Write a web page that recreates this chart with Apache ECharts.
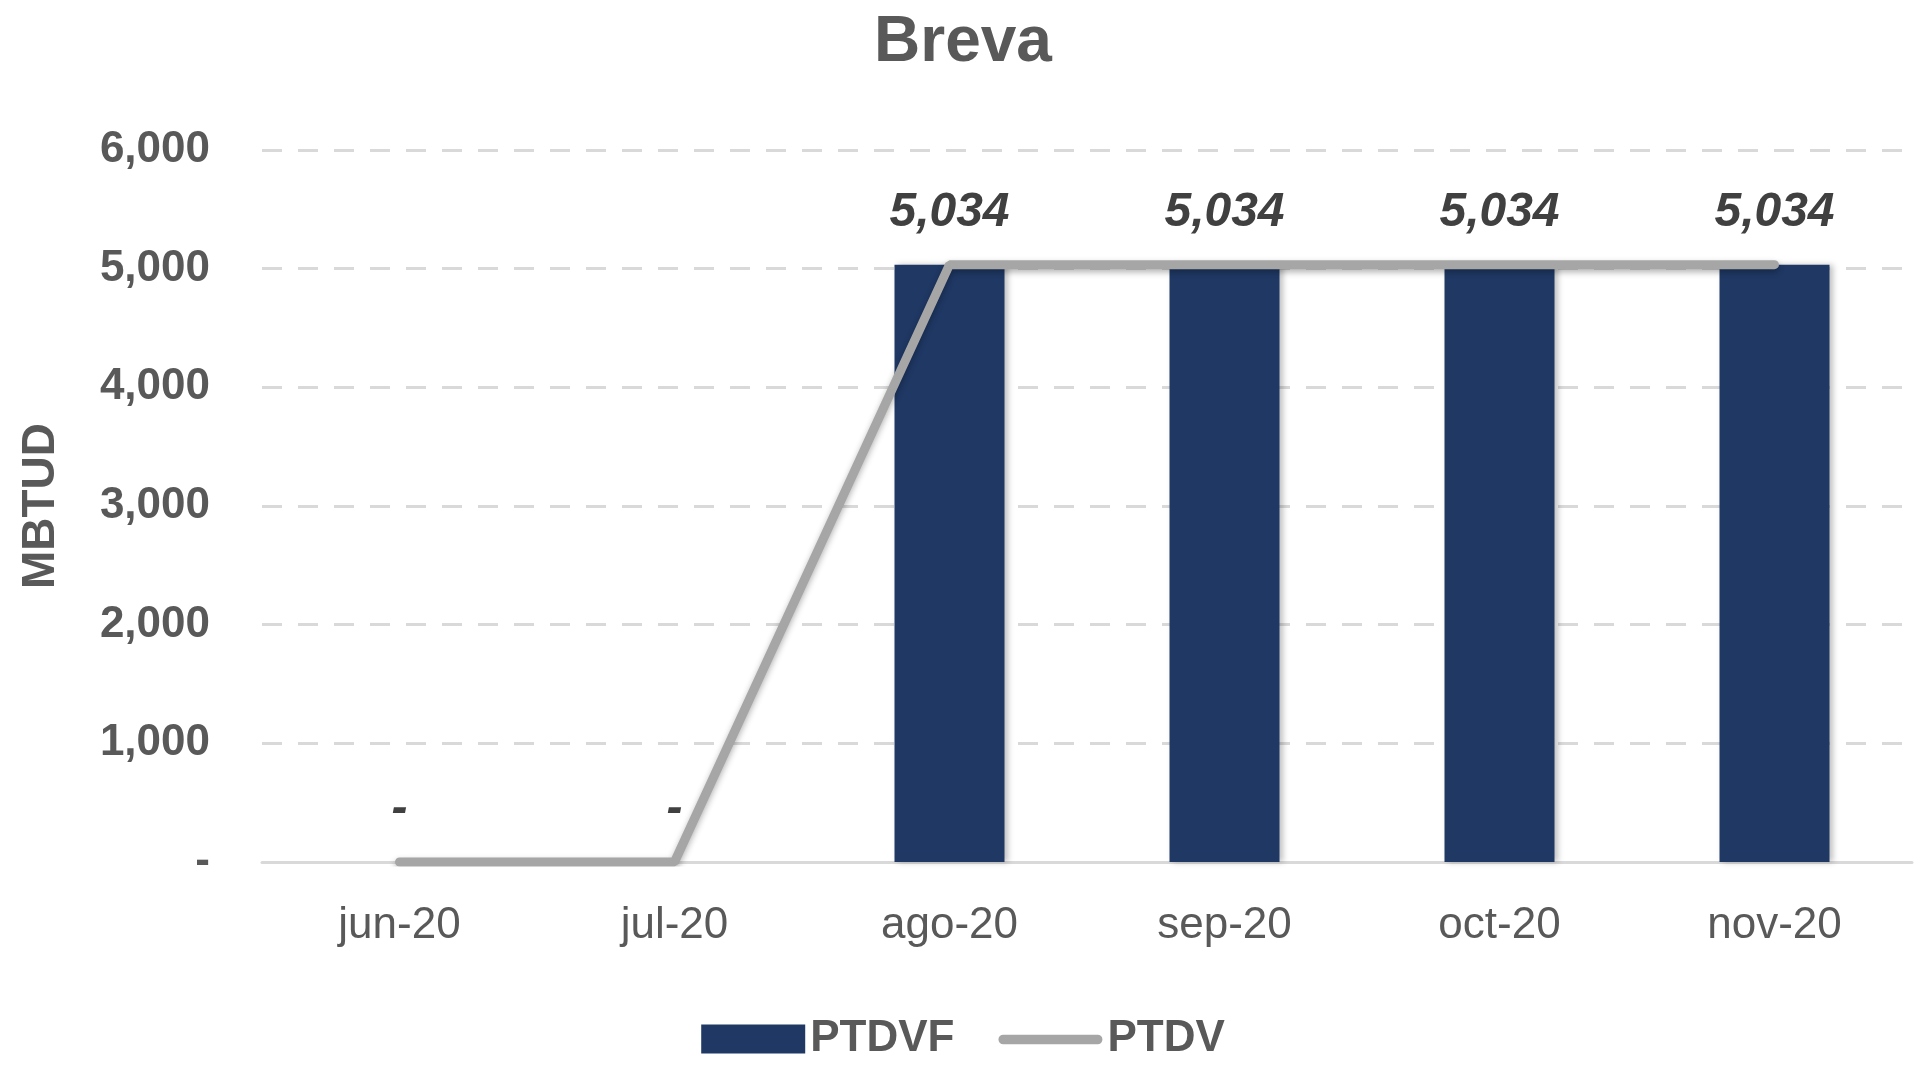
<!DOCTYPE html>
<html>
<head>
<meta charset="utf-8">
<script src="https://cdn.jsdelivr.net/npm/echarts@6/dist/echarts.min.js"></script>
<style>
  html, body { margin: 0; padding: 0; background: #fff; }
  #breva { width: 1926px; height: 1067px; }
</style>
</head>
<body>
<div id="breva"></div>
<script>
// datos del grafico
var meses = ['jun-20', 'jul-20', 'ago-20', 'sep-20', 'oct-20', 'nov-20'];
var ptdvf = [0, 0, 5034, 5034, 5034, 5034];
var ptdv = [0, 0, 5034, 5034, 5034, 5034];
var yTicks = [0, 1000, 2000, 3000, 4000, 5000, 6000];

var fuente = '"Liberation Sans", Arial, sans-serif';
var gris = '#595959';

// icono de leyenda: linea gruesa con puntas redondas (los puntitos fijan la caja)
var iconoLinea = 'path://M0,0h0.05v0.05h-0.05Z M5,10 H103 A5,5 0 0 1 103,20 H5 A5,5 0 0 1 5,10 Z M107.95,28.95h0.05v0.05h-0.05Z';

function fmt(v) {
    return v === 0 ? '-' : Number(v).toLocaleString('en-US');
}

var chartDom = document.getElementById('breva');
var myChart = echarts.init(chartDom);
var option;

option = {
    animation: false,
    title: {
        text: 'Breva',
        left: 'center',
        top: 6,
        textStyle: {
            fontFamily: fuente,
            fontSize: 64,
            fontWeight: 'bold',
            color: gris
        }
    },
    legend: {
        top: 1012,
        left: 'center',
        itemWidth: 104,
        itemHeight: 29,
        itemGap: 44,
        textStyle: {
            fontFamily: fuente,
            fontSize: 44,
            fontWeight: 'bold',
            color: gris
        },
        data: [
            { name: 'PTDVF', icon: 'rect' },
            { name: 'PTDV', icon: iconoLinea, itemStyle: { color: '#a6a6a6' } }
        ]
    },
    grid: {
        left: 262,
        right: 14,
        top: 150,
        bottom: 205
    },
    xAxis: {
        type: 'category',
        data: meses,
        axisTick: { show: false },
        axisLine: { lineStyle: { color: '#d9d9d9', width: 3 } },
        axisLabel: {
            margin: 42,
            fontFamily: fuente,
            fontSize: 44,
            color: gris
        }
    },
    yAxis: {
        type: 'value',
        min: yTicks[0],
        max: yTicks[yTicks.length - 1],
        interval: 1000,
        name: 'MBTUD',
        nameLocation: 'middle',
        nameGap: 198,
        nameTextStyle: {
            fontFamily: fuente,
            fontSize: 46,
            fontWeight: 'bold',
            color: gris
        },
        axisLine: { show: false },
        axisTick: { show: false },
        axisLabel: {
            margin: 52,
            fontFamily: fuente,
            fontSize: 44,
            fontWeight: 'bold',
            color: gris,
            formatter: fmt
        },
        splitLine: {
            lineStyle: { color: '#d9d9d9', width: 3, type: [20, 16] }
        }
    },
    series: [
        {
            name: 'PTDVF',
            type: 'bar',
            data: ptdvf,
            barWidth: '40%',
            itemStyle: {
                color: '#1f3864',
                shadowColor: 'rgba(0,0,0,0.25)',
                shadowBlur: 6,
                shadowOffsetX: 3
            },
            label: {
                show: true,
                position: 'top',
                distance: 28,
                fontFamily: fuente,
                fontSize: 48,
                fontWeight: 'bold',
                fontStyle: 'italic',
                color: '#404040',
                formatter: function (p) { return fmt(p.value); }
            }
        },
        {
            name: 'PTDV',
            type: 'line',
            data: ptdv,
            symbol: 'none',
            z: 3,
            lineStyle: {
                color: '#a6a6a6',
                width: 9,
                cap: 'round',
                shadowColor: 'rgba(0,0,0,0.3)',
                shadowBlur: 6,
                shadowOffsetY: 3
            },
            itemStyle: { color: '#a6a6a6' }
        }
    ]
};

option && myChart.setOption(option);
</script>
</body>
</html>
